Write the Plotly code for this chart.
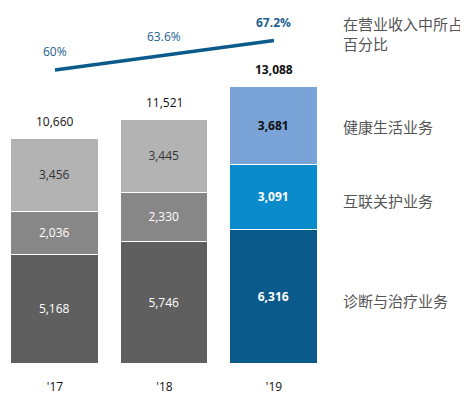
import plotly.graph_objects as go

years = ["'17", "'18", "'19"]
diag = [5168, 5746, 6316]
conn = [2036, 2330, 3091]
health = [3456, 3445, 3681]
totals = [10660, 11521, 13088]
share = [60, 63.6, 67.2]
share_labels = ["60%", "63.6%", "67.2%"]
series_names = ["诊断与治疗业务", "互联关护业务", "健康生活业务"]
line_name = "在营业收入中所占<br>百分比"

FONT = "Open Sans, Noto Sans CJK SC, sans-serif"
CJK = "Noto Sans CJK SC, sans-serif"

colors = {
    "diag": ["#5f5f5f", "#5f5f5f", "#0b5a8c"],
    "conn": ["#878787", "#878787", "#0a8bcb"],
    "health": ["#b3b3b3", "#b3b3b3", "#7aa3d7"],
}
text_colors = {
    "diag": ["white", "white", "white"],
    "conn": ["white", "white", "white"],
    "health": ["#333333", "#333333", "#111111"],
}

def fmt(vals):
    out = []
    for i, v in enumerate(vals):
        s = f"{v:,}"
        out.append(f"<b>{s}</b>" if i == len(vals) - 1 else s)
    return out

fig = go.Figure()
for key, vals, name in [("diag", diag, series_names[0]), ("conn", conn, series_names[1]), ("health", health, series_names[2])]:
    fig.add_trace(go.Bar(
        x=years, y=vals, name=name,
        marker=dict(color=colors[key], line=dict(color="white", width=1.5)),
        text=fmt(vals), textposition="inside", insidetextanchor="middle",
        textfont=dict(color=text_colors[key], size=12, family=FONT),
        width=0.8, hoverinfo="skip",
    ))

fig.add_trace(go.Scatter(
    x=years, y=share, yaxis="y2", mode="lines",
    line=dict(color="#0b5a8c", width=3.5), hoverinfo="skip",
))

annotations = []
for i, (yr, t) in enumerate(zip(years, totals)):
    s = f"{t:,}"
    annotations.append(dict(
        x=yr, y=t, xref="x", yref="y", text=f"<b>{s}</b>" if i == 2 else s,
        showarrow=False, yanchor="bottom", yshift=7,
        font=dict(size=12, family=FONT, color="#111111"),
    ))
for i, (yr, v, lab) in enumerate(zip(years, share, share_labels)):
    annotations.append(dict(
        x=yr, y=v, xref="x", yref="y2", text=f"<b>{lab}</b>" if i == 2 else lab,
        showarrow=False, yanchor="bottom", yshift=8,
        font=dict(size=12, family=FONT, color="#1d5f8f"),
    ))

# page shows figure offset by 8px (body margin); figure coords = reference - 8
OFF = 8
W, H = 468 - OFF, 395 - OFF
H_PLOT = H - 30
def py(px):
    return 1 - (px - OFF) / H_PLOT
def pxx(px):
    return (px - OFF) / W

annotations.append(dict(x=pxx(341), y=py(33.5), xref="paper", yref="paper", xanchor="left", yanchor="middle",
                        text=line_name, showarrow=False, align="left",
                        font=dict(size=15, family=CJK, color="#555555")))
for name, ypx in [(series_names[2], 127), (series_names[1], 200), (series_names[0], 300)]:
    annotations.append(dict(x=pxx(341), y=py(ypx), xref="paper", yref="paper", xanchor="left", yanchor="middle",
                            text=name, showarrow=False, align="left",
                            font=dict(size=15, family=CJK, color="#555555")))

fig.update_layout(
    width=W, height=H,
    margin=dict(l=0, r=0, t=0, b=30),
    barmode="stack", bargap=0,
    showlegend=False,
    plot_bgcolor="white", paper_bgcolor="white",
    xaxis=dict(range=[-0.429, 3.772], showgrid=False, zeroline=False, showline=False,
               ticks="", ticklabelstandoff=13,
               tickfont=dict(size=12, family=FONT, color="#111111")),
    yaxis=dict(range=[-47, 16832], visible=False, showgrid=False, zeroline=False),
    yaxis2=dict(range=[-12.25, 75.18], overlaying="y", visible=False, showgrid=False, zeroline=False),
    annotations=annotations,
)

fig.write_html("out.html")
